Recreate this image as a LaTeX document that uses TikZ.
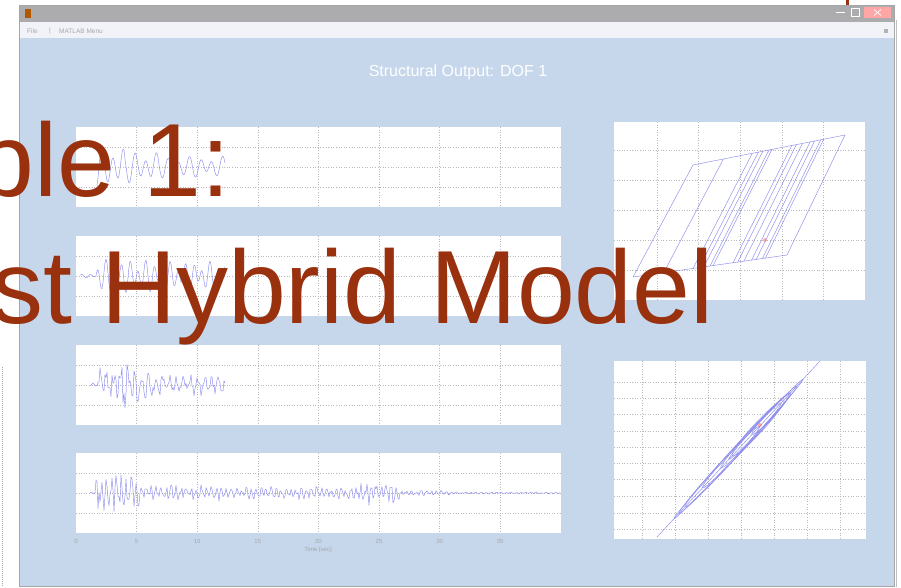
\documentclass[tikz,border=0pt]{standalone}
\usepackage{fontspec}
\setmainfont{Liberation Sans}
\usetikzlibrary{calc}
\definecolor{winblue}{RGB}{198,215,236}
\definecolor{titlegray}{RGB}{172,172,174}
\definecolor{menuwhite}{RGB}{241,243,248}
\definecolor{ovred}{RGB}{153,48,14}
\definecolor{tracec}{RGB}{140,140,238}
\definecolor{gridc}{RGB}{185,185,185}
\tikzset{
  panelbox/.style={fill=white, draw=none},
  gridl/.style={draw=gridc, dotted, line width=0.6pt},
  trace/.style={draw=tracec, line width=0.45pt, line join=round},
  ticklbl/.style={text=gray!70, font=\fontsize{6}{7}\selectfont, inner sep=0pt},
  menutext/.style={text=gray!70, font=\fontsize{6.5}{8}\selectfont, inner sep=0pt},
  ovtext/.style={text=ovred, font=\fontsize{104}{120}\selectfont, inner sep=0pt},
  wintitle/.style={text=white, font=\fontsize{16}{19}\selectfont, inner sep=0pt},
}
\begin{document}
\begin{tikzpicture}[x=1pt,y=-1pt]
\pgfmathsetseed{7}
\useasboundingbox (0,0) rectangle (901,587);
\clip (0,0) rectangle (901,587);
\fill[white] (0,0) rectangle (901,587);
% page edge marks
\draw[gray!70, densely dotted, line width=1pt] (2,367) -- (2,587);
\draw[gray!50, line width=0.6pt] (896,20) -- (896,587);
% window
\fill[titlegray] (19,5) rectangle (894,22);
\fill[menuwhite] (19,22) rectangle (894,38);
\fill[winblue] (19,38) rectangle (894,586);
\draw[gray!70, line width=0.6pt] (19,5) rectangle (894,586);
\fill[orange!70!black] (25,9) rectangle (31,18);
% window buttons
\draw[white, line width=0.8pt] (836,12) -- (845,12);
\draw[white, line width=0.6pt] (851,8) rectangle (859,16);
\fill[red!35] (864,7) rectangle (891,18);
\draw[white, line width=0.7pt] (874,9.5) -- (881,15.5) (874,15.5) -- (881,9.5);
\fill[ovred] (845.5,0) rectangle (848.5,5);
% menu
\node[menutext, anchor=west] (mfile) at (27,31) {File};
\node[menutext] (msep) at (50,31) {|};
\node[menutext, anchor=west] (mmenu) at (59,31) {MATLAB Menu};
\fill[gray!60] (884,29) rectangle (888,33);
% figure title
\node[wintitle] (ftitle) at (458,72) {Structural Output: DOF 1};
% left panels
\foreach \t in {127,236,345,453} {
  \fill[white] (76,\t) rectangle (561,{\t+80});
  \foreach \k in {1,...,7} \draw[gridl] ({76+60.6*\k},\t) -- ++(0,80);
  \foreach \k in {1,2,3} \draw[gridl] (76,{\t+20*\k}) -- ++(485,0);
}
% x tick labels and axis label of the bottom panel
\foreach \v [count=\i from 0] in {0,5,10,15,20,25,30,35}
  \node[ticklbl] (tick\i) at ({76+60.6*\i},541) {\v};
\node[ticklbl] (xlabel) at (318,550) {Time [sec]};
% traces
\draw[trace] plot[domain=97:225, samples=129]
  (\x, {167 - ((\x<125)?22:((\x<160)?16:11))*(0.7*sin(mod(\x,11)*360/11)+0.3*sin(mod(\x,17)*360/17+60))});
\draw[trace] plot[domain=80:225, samples=146]
  (\x, {276 - ((\x<96)?2:((\x<160)?17:15))*(0.65*sin(mod(\x,8)*360/8)+0.35*sin(mod(\x,13)*360/13+40))});
\draw[trace] plot[domain=90:225, samples=136]
  (\x, {385 - ((\x<98)?2:((\x<140)?26:((\x<180)?14:11)))*(0.55*sin(mod(\x,7)*360/7)+0.45*rand)});
\draw[trace] plot[domain=90:560, samples=471]
  (\x, {493 - ((\x<96)?1:((\x<140)?20:((\x<220)?9:((\x<400)?((\x>360)*(\x<395)*6+7):((\x<450)?3:1.2)))))*(0.5*sin(mod(\x,5)*360/5)+0.5*rand)});
% right top: hysteresis
\fill[white] (614,122) rectangle (865,300);
\foreach \xx in {657,698,740,782,823} \draw[gridl] (\xx,122) -- (\xx,300);
\foreach \yy in {150,180,210,240,270} \draw[gridl] (614,\yy) -- (865,\yy);
\coordinate (B0) at (633,277);
\coordinate (B1) at (787,255);
\coordinate (T0) at (693,165);
\coordinate (T1) at (845,135);
\draw[trace] (B0) -- (T0) -- (T1) -- (B1) -- cycle;
\foreach \s in {0.2,0.39,0.43,0.46,0.5,0.52,0.65,0.68,0.72,0.77,0.8,0.84,0.86}
  \draw[trace] ($(B0)!\s!(B1)$) -- ($(T0)!\s!(T1)$);
\draw[red!60, line width=0.4pt] (765,240) circle (1.5);
% right bottom
\fill[white] (614,361) rectangle (866,539);
\foreach \xx in {642,675,708,741,774,807,840} \draw[gridl] (\xx,361) -- (\xx,539);
\foreach \yy in {382,398,414,431,447,463,479,496,513,529} \draw[gridl] (614,\yy) -- (866,\yy);
\coordinate (P0) at (657,537);
\coordinate (P1) at (820,361);
\draw[trace] (P0) -- (P1);
\foreach \t/\a/\b in {0.5/95/3, 0.45/75/4, 0.55/65/4.5, 0.6/50/4, 0.62/38/5, 0.7/28/3.5, 0.4/55/4, 0.65/50/3} {
  \pgfmathsetmacro{\cx}{657+163*\t}
  \pgfmathsetmacro{\cy}{537-176*\t}
  \draw[trace] plot[domain=0:360, samples=73, smooth]
    ({\cx + \a*cos(\x)*0.679 + \b*sin(\x)*0.733}, {\cy - \a*cos(\x)*0.733 + \b*sin(\x)*0.679});
}
\draw[red!60, line width=0.4pt] (760,425) circle (1.5);
% overlay title text
\node[ovtext, anchor=base east] (line1) at (231,196) {ple 1:};
\node[ovtext, anchor=base east] (line2) at (714,323) {st Hybrid Model};
\end{tikzpicture}
\end{document}
